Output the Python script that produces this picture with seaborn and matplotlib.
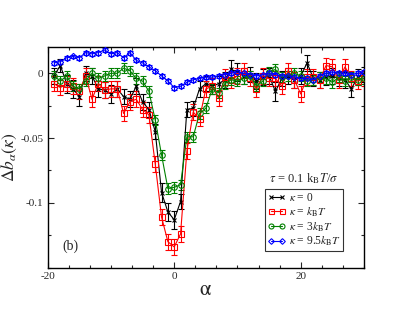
import numpy as np
import pandas as pd
import matplotlib
matplotlib.use("Agg")
import matplotlib.pyplot as plt
import seaborn as sns
from matplotlib.ticker import MultipleLocator

alpha = list(range(-19, 31))

db_k0 = [-0.002, 0.006, -0.008, -0.012, -0.018, 0.000, -0.002, -0.012, -0.013, -0.016,
         -0.012, -0.018, -0.020, -0.010, -0.022, -0.028, -0.045, -0.092, -0.107, -0.113,
         -0.099, -0.028, -0.027, -0.012, -0.008, -0.010, -0.008, -0.005, 0.003, 0.001,
         -0.002, -0.001, -0.006, -0.003, -0.002, -0.014, -0.004, -0.002, -0.005, -0.002,
         0.008, -0.004, -0.005, -0.003, -0.002, -0.004, -0.005, -0.012, -0.003, -0.001]
err_k0 = [0.006, 0.005, 0.007, 0.007, 0.007, 0.006, 0.006, 0.006, 0.006, 0.007,
          0.006, 0.006, 0.006, 0.006, 0.006, 0.006, 0.006, 0.007, 0.007, 0.007,
          0.006, 0.006, 0.006, 0.006, 0.006, 0.006, 0.006, 0.006, 0.007, 0.007,
          0.006, 0.006, 0.006, 0.006, 0.006, 0.007, 0.006, 0.006, 0.006, 0.006,
          0.006, 0.006, 0.006, 0.006, 0.006, 0.006, 0.006, 0.006, 0.006, 0.006]

db_k1 = [-0.008, -0.011, -0.008, -0.010, -0.014, -0.002, -0.020, -0.008, -0.013, -0.012,
         -0.012, -0.031, -0.022, -0.020, -0.028, -0.032, -0.070, -0.111, -0.130, -0.134,
         -0.124, -0.060, -0.030, -0.035, -0.012, -0.010, -0.019, -0.003, -0.005, -0.002,
         0.002, -0.004, -0.012, -0.002, -0.004, -0.004, -0.010, 0.002, -0.005, -0.016,
         -0.003, -0.003, -0.005, 0.006, 0.005, -0.005, 0.005, -0.004, -0.006, -0.004]
err_k1 = [0.006, 0.006, 0.006, 0.006, 0.006, 0.006, 0.006, 0.006, 0.006, 0.006,
          0.006, 0.006, 0.006, 0.006, 0.006, 0.006, 0.006, 0.006, 0.006, 0.006,
          0.006, 0.006, 0.006, 0.006, 0.006, 0.006, 0.006, 0.006, 0.006, 0.006,
          0.006, 0.006, 0.006, 0.006, 0.006, 0.006, 0.006, 0.006, 0.006, 0.006,
          0.006, 0.006, 0.006, 0.006, 0.006, 0.006, 0.006, 0.006, 0.006, 0.006]

db_k3 = [-0.002, -0.006, -0.002, -0.010, -0.012, -0.006, 0.000, -0.004, -0.002, 0.000,
         0.000, 0.004, 0.002, -0.004, -0.006, -0.014, -0.036, -0.063, -0.089, -0.088,
         -0.086, -0.049, -0.049, -0.031, -0.027, -0.012, -0.015, -0.008, -0.005, -0.006,
         -0.004, -0.002, -0.010, -0.006, 0.001, 0.003, -0.003, -0.002, 0.000, -0.002,
         -0.006, -0.005, -0.003, -0.004, -0.007, -0.003, -0.006, -0.003, -0.005, -0.004]
err_k3 = [0.004, 0.004, 0.004, 0.004, 0.004, 0.004, 0.004, 0.004, 0.004, 0.004,
          0.004, 0.004, 0.004, 0.004, 0.004, 0.004, 0.004, 0.004, 0.004, 0.004,
          0.004, 0.004, 0.004, 0.004, 0.004, 0.004, 0.004, 0.004, 0.004, 0.004,
          0.004, 0.004, 0.004, 0.004, 0.004, 0.004, 0.004, 0.004, 0.004, 0.004,
          0.004, 0.004, 0.004, 0.004, 0.004, 0.004, 0.004, 0.004, 0.004, 0.004]

db_k95 = [0.008, 0.009, 0.012, 0.013, 0.012, 0.016, 0.015, 0.016, 0.018, 0.015,
          0.016, 0.012, 0.016, 0.010, 0.008, 0.005, 0.002, -0.002, -0.006, -0.011,
          -0.010, -0.007, -0.005, -0.004, -0.003, -0.003, -0.002, -0.001, 0.000, 0.001,
          0.000, -0.001, -0.002, -0.001, 0.000, -0.001, -0.002, -0.002, -0.003, -0.004,
          -0.004, -0.005, -0.002, 0.000, 0.001, 0.000, 0.000, -0.001, 0.000, 0.001]
err_k95 = [0.0015] * 50

labels = [r'$\kappa$ = 0', r'$\kappa$ = $k_{\rm B}T$', r'$\kappa$ = 3$k_{\rm B}T$',
          r'$\kappa$ = 9.5$k_{\rm B}T$']

sns.set_theme(style="ticks")
plt.rcParams['font.family'] = ['Liberation Serif', 'DejaVu Serif']
plt.rcParams['mathtext.fontset'] = 'stix'

fig = plt.figure(figsize=(4.09, 3.16), dpi=100)
ax = fig.add_axes([0.1166, 0.153, 0.7734, 0.697])

series = [
    (db_k0, err_k0, 'black', 'x', 3.5),
    (db_k1, err_k1, 'red', 's', 4.0),
    (db_k3, err_k3, 'green', 'o', 4.0),
    (db_k95, err_k95, 'blue', 'D', 3.2),
]
for (y, e, c, m, ms), lab in zip(series, labels):
    ax.errorbar(alpha, y, yerr=e, fmt='none', ecolor=c, elinewidth=0.8,
                capsize=2.2, capthick=0.8, zorder=2)
    df = pd.DataFrame({'alpha': alpha, 'db': y})
    sns.lineplot(data=df, x='alpha', y='db', ax=ax, color=c, marker=m,
                 markersize=ms, markerfacecolor='none' if m != 'x' else c,
                 markeredgecolor=c, markeredgewidth=0.8, linewidth=0.8,
                 label=lab, zorder=3)

ax.set_xlim(-20, 30)
ax.set_ylim(-0.15, 0.02)
ax.xaxis.set_minor_locator(MultipleLocator(20 / 6))
ax.yaxis.set_minor_locator(MultipleLocator(0.025))
ax.set_yticks([-0.1, -0.05, 0])
ax.set_yticklabels(['-0.1', '-0.05', '0'])
ax.set_xticks([-20, 0, 20])
ax.set_xticklabels(['-20', '0', '20'])
ax.tick_params(which='both', direction='in', top=True, right=True, labelsize=8,
               width=0.8, pad=3)
ax.tick_params(which='major', length=4)
ax.tick_params(which='minor', length=2)
for s in ax.spines.values():
    s.set_linewidth(1.0)
    s.set_color('black')

ax.set_xlabel(r'$\mathrm{\alpha}$', fontsize=15, labelpad=0)
ax.set_ylabel(r'$\Delta b_{\alpha}(\kappa)$', fontsize=12.5, labelpad=1)

leg = ax.legend(loc='lower left', bbox_to_anchor=(0.687, 0.075), fontsize=8.3,
                frameon=True, fancybox=False, numpoints=2, handlelength=1.5,
                handletextpad=0.3, borderpad=0.25, labelspacing=0.1,
                borderaxespad=0, markerscale=0.9)
leg.get_frame().set_edgecolor('black')
leg.get_frame().set_linewidth(0.8)
ax.text(0.81, 0.405, r'$\tau$ = 0.1 k$_{\rm B}$$T$/$\sigma$', transform=ax.transAxes,
        ha='center', va='center', fontsize=9)
ax.text(0.045, 0.08, '(b)', transform=ax.transAxes, fontsize=10)

fig.savefig('out.png', dpi=100)
